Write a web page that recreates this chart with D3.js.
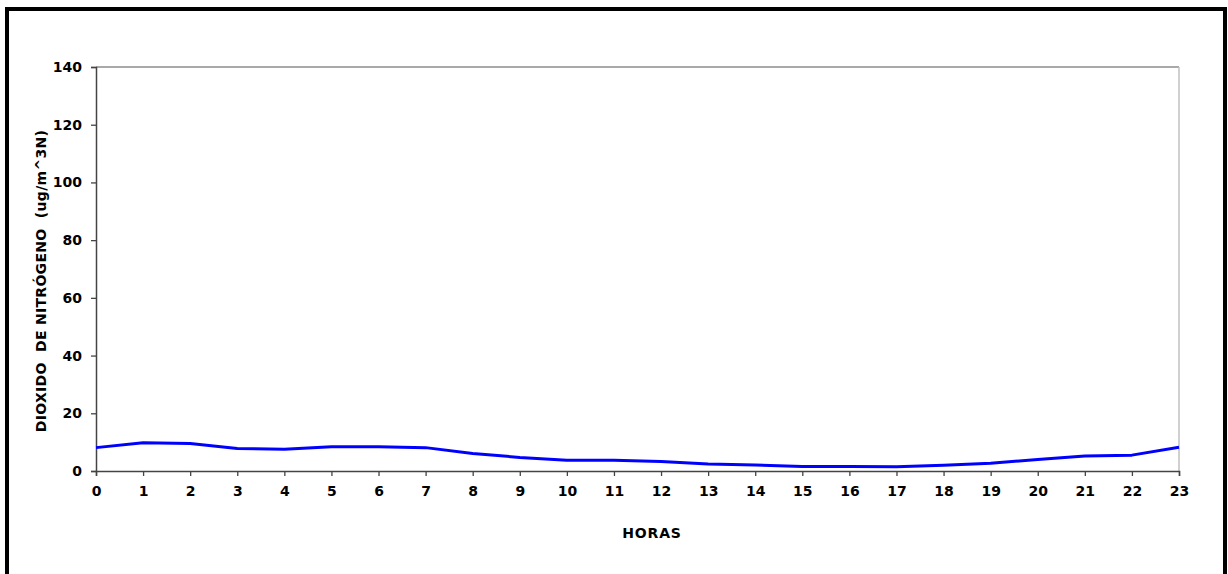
<!DOCTYPE html>
<html>
<head>
<meta charset="utf-8">
<script src="https://cdn.jsdelivr.net/npm/d3@7"></script>
<style>
  body { margin: 0; background: #fff; }
  text { font-family: "DejaVu Sans", Verdana, sans-serif; font-weight: bold; }
</style>
</head>
<body>
<div id="chart"></div>
<script>
// data
var hours  = d3.range(0, 24);
var no2    = [8.1, 9.8, 9.5, 7.8, 7.5, 8.4, 8.4, 8.1, 6.1, 4.7, 3.7, 3.7,
              3.3, 2.4, 2.1, 1.6, 1.6, 1.5, 2.0, 2.7, 4.0, 5.2, 5.5, 8.2];
var y_ticks = [0, 20, 40, 60, 80, 100, 120, 140];

var chart_width  = 1228;
var chart_height = 574;
var margin = { left: 96, right: 49, top: 67, bottom: 103 };

var svg = d3.select('#chart')
	.append('svg')
	.attr('width', chart_width)
	.attr('height', chart_height);

// outer frame
svg.append('rect')
	.attr('x', 7)
	.attr('y', 9)
	.attr('width', 1218)
	.attr('height', 600)
	.attr('fill', 'none')
	.attr('stroke', '#000')
	.attr('stroke-width', 4);

var x_scale = d3.scaleLinear()
	.domain([0, 23])
	.range([margin.left, chart_width - margin.right]);

var y_scale = d3.scaleLinear()
	.domain([0, 140])
	.range([chart_height - margin.bottom, margin.top]);

// plot border, top and right lighter
svg.append('line')
	.attr('x1', x_scale(0)).attr('x2', x_scale(23))
	.attr('y1', y_scale(140)).attr('y2', y_scale(140))
	.attr('stroke', '#8c8c8c').attr('stroke-width', 1.3);
svg.append('line')
	.attr('x1', x_scale(23)).attr('x2', x_scale(23))
	.attr('y1', y_scale(140)).attr('y2', y_scale(0))
	.attr('stroke', '#c0c0c0').attr('stroke-width', 1.5);

// axes
var x_axis = d3.axisBottom(x_scale)
	.tickValues(hours)
	.tickSize(5)
	.tickPadding(10);
var y_axis = d3.axisLeft(y_scale)
	.tickValues(y_ticks)
	.tickSize(5)
	.tickPadding(9);

var gx = svg.append('g')
	.attr('transform', 'translate(0,' + y_scale(0) + ')')
	.call(x_axis);
var gy = svg.append('g')
	.attr('transform', 'translate(' + x_scale(0) + ',0)')
	.call(y_axis);

[gx, gy].forEach(function(g){
	g.select('.domain').attr('stroke', '#444').attr('stroke-width', 1.5);
	g.selectAll('.tick line').attr('stroke', '#444').attr('stroke-width', 1.3);
	g.selectAll('.tick text')
		.attr('font-size', 14)
		.attr('fill', '#000')
		.style('font-family', '"DejaVu Sans", Verdana, sans-serif')
		.style('font-weight', 'bold');
});

// line
var line = d3.line()
	.x(function(d, i){ return x_scale(hours[i]); })
	.y(function(d){ return y_scale(d); });

svg.append('path')
	.datum(no2)
	.attr('d', line)
	.attr('fill', 'none')
	.attr('stroke', '#0000ff')
	.attr('stroke-width', 3)
	.attr('stroke-linejoin', 'round');

// axis titles
svg.append('text')
	.text('HORAS')
	.attr('x', 652)
	.attr('y', 538)
	.attr('text-anchor', 'middle')
	.attr('font-size', 14)
	.attr('letter-spacing', 0.8);

svg.append('text')
	.text('DIOXIDO  DE NITRÓGENO  (ug/m^3N)')
	.attr('transform', 'translate(46,281) rotate(-90)')
	.attr('text-anchor', 'middle')
	.attr('font-size', 14)
	.attr('letter-spacing', 0.3)
	.style('white-space', 'pre');
</script>
</body>
</html>
